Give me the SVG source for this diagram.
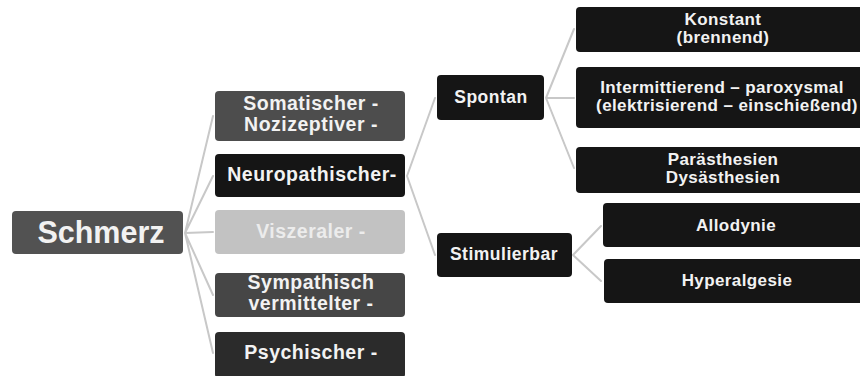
<svg xmlns="http://www.w3.org/2000/svg" width="860" height="376" viewBox="0 0 860 376">
<style>
.t{font-family:"Liberation Sans",Arial,sans-serif;font-weight:bold;fill:#f2f2f2;text-anchor:middle;letter-spacing:0.5px}
.l2{font-size:19.5px}
.l3{font-size:17.5px}
.l4{font-size:17px;letter-spacing:0.4px}
.dk{fill:#151515}
.c{stroke:#c8c8c8;stroke-width:2;fill:none;stroke-linecap:round}
</style>
<rect width="860" height="376" fill="#ffffff"/>
<g id="connectors">
<path class="c" d="M185 233 L213 116 M185 233 L213 176 M185 233 L213 232 M185 233 L213 295 M185 233 L213 353"/>
<path class="c" d="M407 176 L435 98 M407 176 L435 255"/>
<path class="c" d="M546 98 L574 29 M546 98 L574 98 M546 98 L574 168"/>
<path class="c" d="M573 255 L601 226 M573 255 L601 281"/>
</g>
<g id="schmerz">
<rect x="12" y="211" width="171" height="43" rx="4" fill="#525252"/>
<text class="t" x="101" y="243" font-size="30.5" style="letter-spacing:0">Schmerz</text>
</g>
<g id="somatischer">
<rect x="215" y="91" width="190" height="50" rx="4" fill="#4d4d4d"/>
<text class="t l2" x="311" y="110">Somatischer -</text>
<text class="t l2" x="311" y="131">Nozizeptiver -</text>
</g>
<g id="neuropathischer">
<rect x="215" y="154" width="190" height="43" rx="4" class="dk"/>
<text class="t l2" x="312" y="181">Neuropathischer-</text>
</g>
<g id="viszeraler">
<rect x="215" y="210" width="190" height="44" rx="4" fill="#c2c2c2"/>
<text class="t l2" x="311" y="238" style="fill:#ececec">Viszeraler -</text>
</g>
<g id="sympathisch">
<rect x="215" y="273" width="190" height="44" rx="4" fill="#464646"/>
<text class="t l2" x="311" y="289">Sympathisch</text>
<text class="t l2" x="311" y="310">vermittelter -</text>
</g>
<g id="psychischer">
<rect x="215" y="332" width="190" height="46" rx="4" fill="#2b2b2b"/>
<text class="t l2" x="311" y="359">Psychischer -</text>
</g>
<g id="spontan">
<rect x="437" y="75" width="107" height="45" rx="4" class="dk"/>
<text class="t l3" x="491" y="103">Spontan</text>
</g>
<g id="stimulierbar">
<rect x="437" y="233" width="135" height="44" rx="4" class="dk"/>
<text class="t l3" x="504" y="260">Stimulierbar</text>
</g>
<g id="konstant">
<rect x="576" y="7" width="294" height="45" rx="4" class="dk"/>
<text class="t l4" x="723" y="25">Konstant</text>
<text class="t l4" x="723" y="43">(brennend)</text>
</g>
<g id="intermittierend">
<rect x="576" y="67" width="294" height="61" rx="4" class="dk"/>
<text class="t l4" x="722" y="93">Intermittierend – paroxysmal</text>
<text class="t l4" x="727" y="111">(elektrisierend – einschießend)</text>
</g>
<g id="parasthesien">
<rect x="576" y="147" width="294" height="46" rx="4" class="dk"/>
<text class="t l4" x="723" y="165">Parästhesien</text>
<text class="t l4" x="723" y="183">Dysästhesien</text>
</g>
<g id="allodynie">
<rect x="603" y="203" width="267" height="44" rx="4" class="dk"/>
<text class="t l4" x="736" y="231">Allodynie</text>
</g>
<g id="hyperalgesie">
<rect x="604" y="259" width="266" height="44" rx="4" class="dk"/>
<text class="t l4" x="737" y="286">Hyperalgesie</text>
</g>
</svg>
